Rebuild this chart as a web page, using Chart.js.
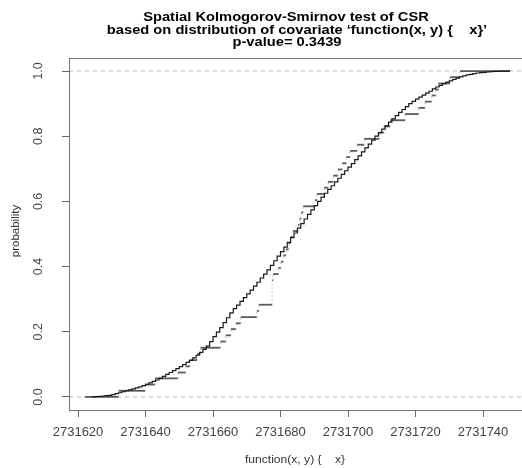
<!DOCTYPE html>
<html>
<head>
<meta charset="utf-8">
<script src="https://cdn.jsdelivr.net/npm/chart.js@4/dist/chart.umd.min.js"></script>
<style>
  html, body { margin: 0; padding: 0; background: #fff; overflow: hidden; width: 522px; height: 468px; }
  #wrap { position: relative; width: 530px; height: 468px; }
  canvas { display: block; }
</style>
</head>
<body>
<div id="wrap"><canvas id="c" width="530" height="468"></canvas></div>
<script>
// ---- text ----
const titleLines = [
  'Spatial Kolmogorov-Smirnov test of CSR',
  'based on distribution of covariate \u2018function(x, y) {    x}\u2019',
  'p-value= 0.3439'
];
const xAxisTitle = 'function(x, y) {    x}';
const yAxisTitle = 'probability';

// ---- axes ----
const xTicks = [2731620, 2731640, 2731660, 2731680, 2731700, 2731720, 2731740];
const yTicks = [0, 0.2, 0.4, 0.6, 0.8, 1.0];
const yTickLabels = ['0.0', '0.2', '0.4', '0.6', '0.8', '1.0'];
const xRange = [2731617.33, 2731753.33];
const yRange = [-0.04, 1.04];

// ---- predicted distribution of the covariate (fine step curve) ----
const expX = [
  2731624, 2731625, 2731626, 2731627, 2731628, 2731629, 2731630, 2731631, 2731632, 2731633,
  2731634, 2731635, 2731636, 2731637, 2731638, 2731639, 2731640, 2731641, 2731642, 2731643,
  2731644, 2731645, 2731646, 2731647, 2731648, 2731649, 2731650, 2731651, 2731652, 2731653,
  2731654, 2731655, 2731656, 2731657, 2731658, 2731659, 2731660, 2731661, 2731662, 2731663,
  2731664, 2731665, 2731666, 2731667, 2731668, 2731669, 2731670, 2731671, 2731672, 2731673,
  2731674, 2731675, 2731676, 2731677, 2731678, 2731679, 2731680, 2731681, 2731682, 2731683,
  2731684, 2731685, 2731686, 2731687, 2731688, 2731689, 2731690, 2731691, 2731692, 2731693,
  2731694, 2731695, 2731696, 2731697, 2731698, 2731699, 2731700, 2731701, 2731702, 2731703,
  2731704, 2731705, 2731706, 2731707, 2731708, 2731709, 2731710, 2731711, 2731712, 2731713,
  2731714, 2731715, 2731716, 2731717, 2731718, 2731719, 2731720, 2731721, 2731722, 2731723,
  2731724, 2731725, 2731726, 2731727, 2731728, 2731729, 2731730, 2731731, 2731732, 2731733,
  2731734, 2731735, 2731736, 2731737, 2731738, 2731739, 2731740, 2731741, 2731742, 2731743,
  2731744, 2731745, 2731746, 2731748
];
const expP = [
  0.000, 0.001, 0.002, 0.003, 0.004, 0.005, 0.007, 0.010, 0.013, 0.016,
  0.019, 0.022, 0.025, 0.028, 0.031, 0.035, 0.039, 0.043, 0.048, 0.052,
  0.057, 0.063, 0.069, 0.075, 0.081, 0.087, 0.093, 0.099, 0.106, 0.112,
  0.120, 0.128, 0.137, 0.146, 0.156, 0.170, 0.185, 0.199, 0.213, 0.228,
  0.243, 0.258, 0.271, 0.282, 0.293, 0.305, 0.316, 0.328, 0.340, 0.352,
  0.365, 0.377, 0.390, 0.404, 0.418, 0.432, 0.446, 0.460, 0.474, 0.489,
  0.503, 0.518, 0.532, 0.546, 0.560, 0.574, 0.587, 0.600, 0.613, 0.625,
  0.637, 0.648, 0.660, 0.671, 0.683, 0.694, 0.705, 0.716, 0.728, 0.740,
  0.752, 0.764, 0.776, 0.788, 0.800, 0.811, 0.822, 0.832, 0.843, 0.853,
  0.863, 0.873, 0.882, 0.891, 0.900, 0.907, 0.914, 0.920, 0.926, 0.932,
  0.938, 0.945, 0.951, 0.956, 0.961, 0.966, 0.970, 0.974, 0.978, 0.982,
  0.985, 0.988, 0.990, 0.992, 0.994, 0.995, 0.996, 0.997, 0.998, 0.999,
  0.999, 1.000, 1.000, 1.000
];

// ---- empirical distribution at the data points (jump positions, level after each jump) ----
const obsStart = 2731622;
const obsEnd = 2731748;
const obsX = [
  2731632.0, 2731639.9, 2731642.8, 2731649.6, 2731651.9, 2731653.2, 2731655.3, 2731656.3, 2731662.2, 2731663.8,
  2731665.3, 2731666.8, 2731668.2, 2731673.0, 2731673.6, 2731677.5, 2731677.8, 2731679.4, 2731680.1, 2731680.8,
  2731681.6, 2731682.4, 2731683.0, 2731683.7, 2731685.2, 2731685.6, 2731686.1, 2731686.7, 2731690.2, 2731690.8,
  2731692.9, 2731694.1, 2731695.6, 2731697.0, 2731698.3, 2731699.5, 2731700.6, 2731702.7, 2731704.8, 2731709.3,
  2731710.6, 2731712.5, 2731716.9, 2731720.9, 2731722.8, 2731724.8, 2731726.0, 2731726.8, 2731730.2, 2731733.2
];
const obsP = [
  0.019, 0.038, 0.057, 0.075, 0.094, 0.113, 0.132, 0.151, 0.170, 0.189,
  0.208, 0.226, 0.245, 0.264, 0.283, 0.358, 0.377, 0.396, 0.415, 0.434,
  0.453, 0.472, 0.491, 0.509, 0.528, 0.547, 0.566, 0.585, 0.604, 0.623,
  0.642, 0.660, 0.679, 0.698, 0.717, 0.736, 0.755, 0.774, 0.792, 0.811,
  0.830, 0.849, 0.868, 0.887, 0.906, 0.925, 0.943, 0.962, 0.981, 1.000
];

// reference levels drawn as dashed lines across the panel
const refLevels = [0, 1];

// ---- build point tables ----
const expPoints = expX.map((x, i) => ({ x: x, y: expP[i] }));

// empirical step function as explicit horizontal/vertical pieces
const obsPoints = [{ x: obsStart, y: 0 }];
obsX.forEach((x, i) => {
  const prev = i === 0 ? 0 : obsP[i - 1];
  obsPoints.push({ x: x, y: prev });
  obsPoints.push({ x: x, y: obsP[i] });
});
obsPoints.push({ x: obsEnd, y: obsP[obsP.length - 1] });

const refSets = refLevels.map(level => ({
  data: [{ x: xRange[0], y: level }, { x: xRange[1], y: level }],
  borderColor: '#b4b4b4',
  borderWidth: 1,
  borderDash: [4, 4],
  pointRadius: 0,
  order: 3
}));

const isVertical = ctx => ctx.p0.parsed.x === ctx.p1.parsed.x;

// draw text squeezed/stretched horizontally around its centre
function wideText(ctx, text, cx, cy, sx) {
  ctx.save();
  ctx.translate(cx, cy);
  ctx.scale(sx, 1);
  ctx.fillText(text, 0, 0);
  ctx.restore();
}

// ---- frame, titles and rotated y labels ----
const framePlugin = {
  id: 'framePlugin',
  afterDraw(chart) {
    const ctx = chart.ctx;
    const a = chart.chartArea;
    const ys = chart.scales.y;
    ctx.save();
    // panel box
    ctx.strokeStyle = '#777';
    ctx.lineWidth = 1;
    ctx.strokeRect(a.left + 0.5, a.top + 0.5, a.right - a.left, a.bottom - a.top);

    // title
    ctx.fillStyle = '#000';
    ctx.textAlign = 'center';
    ctx.textBaseline = 'alphabetic';
    ctx.font = 'bold 13px "Liberation Sans", Arial, sans-serif';
    const titleX = [286, 297, 287];
    const titleY = [20.5, 33.5, 45.5];
    titleLines.forEach((t, i) => wideText(ctx, t, titleX[i], titleY[i], 1.13));

    // x axis title
    ctx.fillStyle = '#333';
    ctx.font = '11px "Liberation Sans", Arial, sans-serif';
    ctx.textBaseline = 'middle';
    wideText(ctx, xAxisTitle, 295, 460, 1.1);

    // y axis title
    ctx.save();
    ctx.translate(16, 231);
    ctx.rotate(-Math.PI / 2);
    ctx.font = '11.5px "Liberation Sans", Arial, sans-serif';
    ctx.fillText(yAxisTitle, 0, 0);
    ctx.restore();

    // y tick labels, read bottom to top
    ctx.fillStyle = '#444';
    ctx.font = '12.5px "Liberation Sans", Arial, sans-serif';
    yTicks.forEach((v, i) => {
      const py = ys.getPixelForValue(v);
      ctx.save();
      ctx.translate(39, py);
      ctx.rotate(-Math.PI / 2);
      ctx.fillText(yTickLabels[i], 0, 0);
      ctx.restore();
    });
    ctx.restore();
  }
};

new Chart(document.getElementById('c'), {
  type: 'line',
  data: {
    datasets: [
      {
        data: expPoints,
        stepped: 'before',
        borderColor: '#1a1a1a',
        borderWidth: 1.2,
        pointRadius: 0,
        order: 1
      },
      {
        data: obsPoints,
        borderColor: '#5a5a5a',
        borderWidth: 1.8,
        pointRadius: 0,
        order: 2,
        segment: {
          borderDash: ctx => isVertical(ctx) ? [1, 3] : undefined,
          borderColor: ctx => isVertical(ctx) ? '#9a9a9a' : undefined,
          borderWidth: ctx => isVertical(ctx) ? 1 : undefined
        }
      },
      ...refSets
    ]
  },
  options: {
    responsive: false,
    animation: false,
    devicePixelRatio: 1,
    layout: { padding: { left: 0, right: 2, top: 58, bottom: 0 } },
    plugins: { legend: { display: false }, tooltip: { enabled: false }, title: { display: false } },
    scales: {
      x: {
        type: 'linear',
        min: xRange[0],
        max: xRange[1],
        afterFit: s => { s.height = 58; },
        afterBuildTicks: s => { s.ticks = xTicks.map(v => ({ value: v })); },
        border: { display: false },
        grid: { display: true, drawOnChartArea: false, drawTicks: true, tickLength: 7, color: '#666', lineWidth: 1 },
        ticks: {
          padding: 8,
          color: '#444',
          font: { family: '"Liberation Sans", Arial, sans-serif', size: 13 },
          maxRotation: 0,
          autoSkip: false,
          callback: v => String(v)
        }
      },
      y: {
        type: 'linear',
        min: yRange[0],
        max: yRange[1],
        afterFit: s => { s.width = 69; },
        afterBuildTicks: s => { s.ticks = yTicks.map(v => ({ value: v })); },
        border: { display: false },
        grid: { display: true, drawOnChartArea: false, drawTicks: true, tickLength: 7, color: '#666', lineWidth: 1 },
        ticks: { display: false }
      }
    }
  },
  plugins: [framePlugin]
});
</script>
</body>
</html>
